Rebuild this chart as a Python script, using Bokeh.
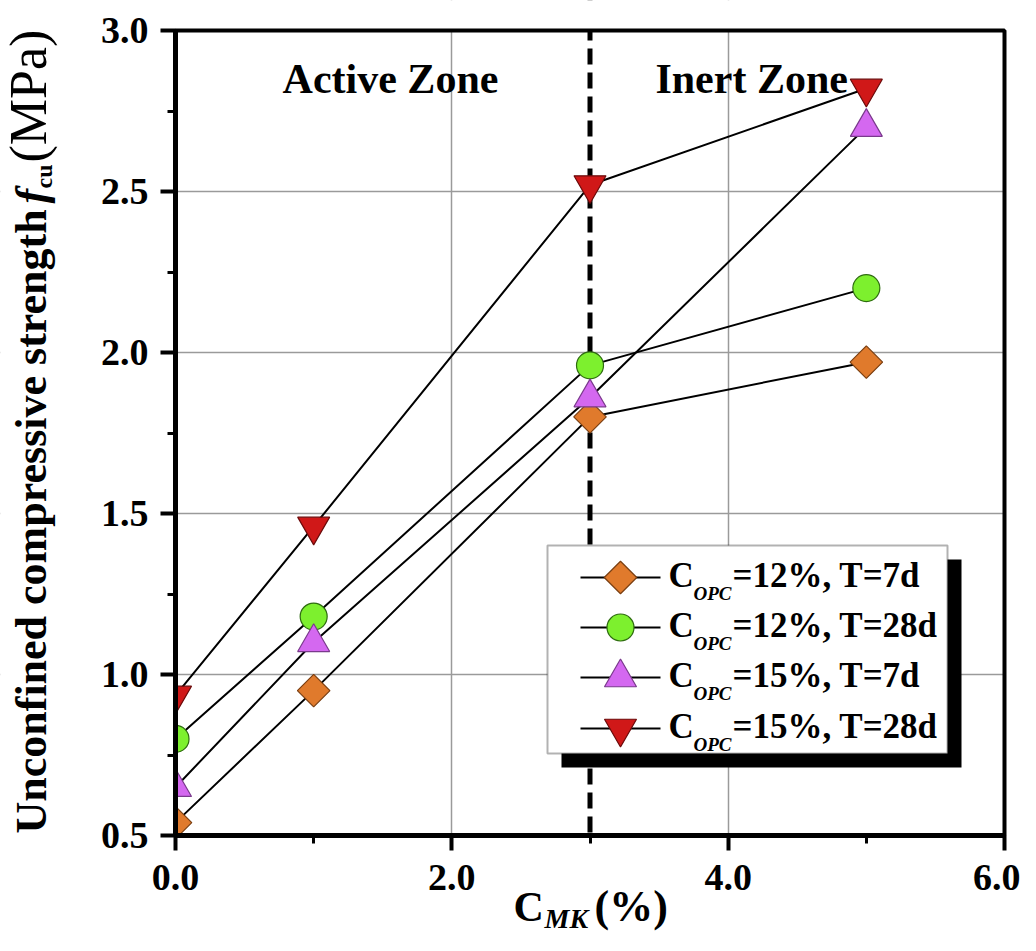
import math
from bokeh.plotting import figure
from bokeh.models import (Label, Span, BoxAnnotation, FixedTicker, NumeralTickFormatter, Range1d)
from bokeh.embed import file_html
from bokeh.resources import INLINE

# ---------------- data ----------------
c_mk = [0, 1, 3, 5]
opc_12_t7 = [0.54, 0.95, 1.80, 1.97]
opc_12_t28 = [0.80, 1.18, 1.96, 2.20]
opc_15_t7 = [0.65, 1.10, 1.86, 2.70]
opc_15_t28 = [0.935, 1.46, 2.52, 2.82]

series_opc = ["12%", "12%", "15%", "15%"]
series_T = ["7d", "28d", "7d", "28d"]

x_major = [0, 2, 4, 6]
x_minor = [1, 3, 5]
y_major = [0.5, 1.0, 1.5, 2.0, 2.5, 3.0]
y_minor = [0.75, 1.25, 1.75, 2.25, 2.75]
x_grid = [2, 4]
y_grid = [1.0, 1.5, 2.0, 2.5]
zone_boundary = 3
X0, X1 = 0.0, 6.0
Y0, Y1 = 0.5, 3.0

FONT = "Liberation Serif"
BASE_K = 0.32   # measured offset of Bokeh's alphabetic baseline, in em

# ---------------- geometry (canvas pixels) ----------------
W, H = 1020, 935
BOX_L, BOX_R, BOX_T, BOX_B = 175, 1004, 30, 835


def px2x(px):
    return X0 + (px - BOX_L) * (X1 - X0) / (BOX_R - BOX_L)


def py2y(py):
    return Y0 + (BOX_B - py) * (Y1 - Y0) / (BOX_B - BOX_T)


def SY(py):  # screen-unit y (from canvas bottom) for a canvas pixel row
    return H - py


p = figure(width=W, height=H, x_range=Range1d(px2x(0), px2x(W)),
           y_range=Range1d(py2y(H), py2y(0)), output_backend="svg",
           toolbar_location=None, min_border=0)
p.title.visible = False
p.extra_x_ranges = {"px": Range1d(0, W)}
p.extra_y_ranges = {"px": Range1d(H, 0)}
p.background_fill_color = "white"
p.border_fill_color = "white"
p.outline_line_color = None

# axes drawn at the data box edges
p.xaxis.fixed_location = Y0
p.yaxis.fixed_location = X0
p.xaxis.bounds = (X0, X1)
p.yaxis.bounds = (Y0, Y1)
p.xaxis.ticker = FixedTicker(ticks=x_major, minor_ticks=x_minor)
p.yaxis.ticker = FixedTicker(ticks=y_major, minor_ticks=y_minor)
for ax in (p.xaxis[0], p.yaxis[0]):
    ax.level = "overlay"
    ax.formatter = NumeralTickFormatter(format="0.0")
    ax.axis_line_width = 5
    ax.axis_line_color = "black"
    ax.major_tick_line_width = 4
    ax.major_tick_line_color = "black"
    ax.minor_tick_line_width = 3
    ax.minor_tick_line_color = "black"
    ax.major_tick_in = 0
    ax.major_tick_out = 15
    ax.minor_tick_in = 0
    ax.minor_tick_out = 8
    ax.major_label_text_font = FONT
    ax.major_label_text_font_style = "bold"
    ax.major_label_text_font_size = "38px"
    ax.major_label_text_color = "black"
p.xaxis.major_label_standoff = 14
p.yaxis.major_label_standoff = 12

p.xgrid.ticker = FixedTicker(ticks=x_grid)
p.ygrid.ticker = FixedTicker(ticks=y_grid)
p.grid.grid_line_color = "#9a9a9a"
p.grid.grid_line_width = 1.5

span = Span(location=zone_boundary, dimension="height", line_color="black",
            line_width=5, line_dash="16 8", level="underlay")
p.add_layout(span)


# legend box + shadow (under the glyphs)
def sbox(l, r, t, b, **kw):
    return BoxAnnotation(left=l, right=r, top=SY(t), bottom=SY(b),
                         left_units="screen", right_units="screen",
                         top_units="screen", bottom_units="screen", level="underlay", **kw)


p.add_layout(sbox(561, 961, 559, 767, fill_color="black", fill_alpha=1, line_color=None))
p.add_layout(sbox(547, 947, 545, 753, fill_color="white", fill_alpha=1,
                  line_color="black", line_width=2))

styles = [
    (opc_12_t7, "square", "#E07A2C", "#7A3E10", 23, math.pi / 4),
    (opc_12_t28, "circle", "#7DF02E", "#2E6B10", 27, 0),
    (opc_15_t7, "triangle", "#D468F0", "#7A3A8C", 32, 0),
    (opc_15_t28, "inverted_triangle", "#D01818", "#6B0A0A", 32, 0),
]
for ys, mk, fill, edge, size, ang in styles:
    p.line(c_mk, ys, line_color="black", line_width=2)
    p.scatter(c_mk, ys, marker=mk, size=size, angle=ang, fill_color=fill,
              line_color=edge, line_width=1.2)

# legend keys (in canvas-pixel coordinates)
row_centers = [577, 627, 677, 728]
for (ys, mk, fill, edge, size, ang), c in zip(styles, row_centers):
    p.segment(x0=580, y0=c, x1=660, y1=c, line_color="black", line_width=2,
              x_range_name="px", y_range_name="px")
    p.scatter(x=[620], y=[c], marker=mk, size=size, angle=ang, fill_color=fill,
              line_color=edge, line_width=1.2, x_range_name="px", y_range_name="px")

# white masks outside the data box (markers are cut at the box edge, as in the original)
for kw in (dict(right=X0), dict(left=X1), dict(top=Y0), dict(bottom=Y1)):
    p.add_layout(BoxAnnotation(fill_color="white", fill_alpha=1, line_color=None, **kw))
# top and right frame lines
p.add_layout(BoxAnnotation(left=X0, right=X1, bottom=Y0, top=Y1, fill_alpha=0,
                           line_color="black", line_width=4, line_alpha=1))


def lab(text, x, py, size, style="bold", angle=0.0):
    """x, py: canvas position of the text start on its baseline."""
    off = BASE_K * size
    if angle:
        x = x - off
    else:
        py = py - off
    p.add_layout(Label(x=x, y=SY(py), x_units="screen", y_units="screen", text=text,
                       angle=angle, text_font=FONT, text_font_style=style,
                       text_font_size=f"{size}px", text_baseline="alphabetic",
                       text_color="black"))


# zone texts
for txt, xz in (("Active Zone", 1.556), ("Inert Zone", 4.17)):
    p.add_layout(Label(x=xz, y=py2y(92 - BASE_K * 42), text=txt, text_align="center",
                       text_baseline="alphabetic", text_font=FONT,
                       text_font_style="bold", text_font_size="42px", text_color="black"))

# legend texts
for c, opc, T in zip(row_centers, series_opc, series_T):
    lab("C", 668, c + 9, 35)
    lab("OPC", 693, c + 22, 19, "bold italic")
    lab("=" + opc + ", T=" + T, 732, c + 9, 35)

# x axis title: C_MK(%)
lab("C", 513, 920, 42)
lab("MK", 544, 927, 28, "bold italic")
lab("(%)", 594, 920, 44)

# y axis title: Unconfined compressive strength f_cu (MPa)
rot = math.pi / 2
lab("Unconfined compressive strength", 45, 833, 44, angle=rot)
lab("f", 45, 203, 44, "bold italic", angle=rot)
lab("cu", 51, 188, 24, angle=rot)
lab("(MPa)", 45, 162, 52, "normal", angle=rot)

open("out.html", "w").write(file_html(p, INLINE))
